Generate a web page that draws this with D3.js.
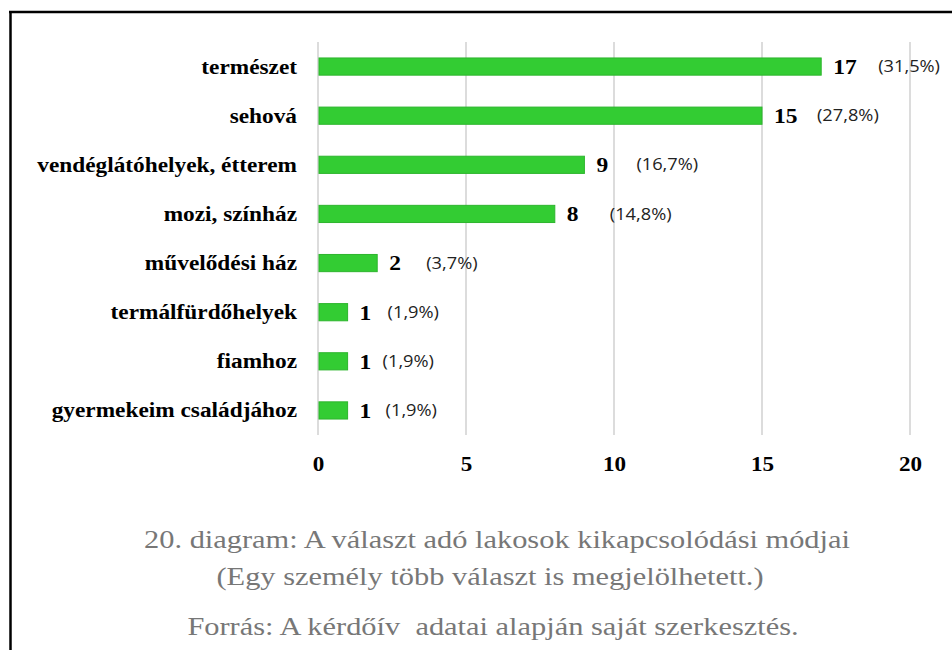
<!DOCTYPE html>
<html><head><meta charset="utf-8">
<script src="https://cdn.jsdelivr.net/npm/d3@7/dist/d3.min.js"></script>
<style>body{margin:0;background:#fff}svg{display:block}</style>
</head><body>
<script>
const categories = ["természet","sehová","vendéglátóhelyek, étterem","mozi, színház","művelődési ház","termálfürdőhelyek","fiamhoz","gyermekeim családjához"];
const values = [17,15,9,8,2,1,1,1];
const percents = ["(31,5%)","(27,8%)","(16,7%)","(14,8%)","(3,7%)","(1,9%)","(1,9%)","(1,9%)"];
const tickValues = [0,5,10,15,20];
const captionLines = ["20. diagram: A választ adó lakosok kikapcsolódási módjai","(Egy személy több választ is megjelölhetett.)","Forrás: A kérdőív  adatai alapján saját szerkesztés."];
// layout: distance from bar end to percent label (px)
const pctOffset = [57,55,52,55,49,40,35,38];

const W=952,H=650;
const svg=d3.select("body").append("svg").attr("width",W).attr("height",H);
svg.append("rect").attr("width",W).attr("height",H).attr("fill","#fff");
// frame
svg.append("line").attr("x1",9).attr("x2",W).attr("y1",12).attr("y2",12).attr("stroke","#000").attr("stroke-width",2.5);
svg.append("line").attr("x1",10.5).attr("x2",10.5).attr("y1",11).attr("y2",H).attr("stroke","#000").attr("stroke-width",2.5);

const x=d3.scaleLinear().domain([0,20]).range([318,910]);
const y=d3.scaleBand().domain(categories).range([42,435]).paddingInner(0.65).paddingOuter(0.325);

const serif="'Liberation Serif','Times New Roman',serif";
const sans="'Open Sans','Noto Sans',sans-serif";

// gridlines
svg.append("g").selectAll("line").data(tickValues).join("line")
 .attr("x1",d=>x(d)).attr("x2",d=>x(d)).attr("y1",42).attr("y2",435)
 .attr("stroke","#d0d0d0").attr("stroke-width",1.5);

// x axis
const xs=1.1;
const xa=svg.append("g").attr("transform","translate(0,446)")
 .call(d3.axisBottom(x).tickValues(tickValues).tickSize(0).tickPadding(10).tickFormat(d3.format("d")));
xa.select(".domain").remove();
xa.selectAll("text").attr("font-family",serif).attr("font-weight","bold").attr("font-size",21).attr("fill","#000")
 .attr("transform",`scale(${xs},1)`);

// y axis
const ys=1.06;
const ya=svg.append("g").attr("transform","translate(318,0)")
 .call(d3.axisLeft(y).tickSize(0).tickPadding(21));
ya.select(".domain").remove();
ya.selectAll("text").attr("font-family",serif).attr("font-weight","bold").attr("font-size",22).attr("fill","#000")
 .attr("x",-21/ys).attr("transform",`scale(${ys},1)`);

const data=categories.map((c,i)=>({c,v:values[i],p:percents[i],o:pctOffset[i]}));
// bars
svg.append("g").selectAll("rect").data(data).join("rect")
 .attr("x",x(0)+1).attr("y",d=>y(d.c)).attr("width",d=>x(d.v)-x(0)-1).attr("height",y.bandwidth())
 .attr("fill","#33cc33").attr("stroke","#2db52d").attr("stroke-width",1);

// value labels
const vs=1.12, ps=1.14;
const lab=svg.append("g").selectAll("g").data(data).join("g")
 .attr("transform",d=>`translate(${x(d.v)},${y(d.c)+y.bandwidth()/2})`);
lab.append("text")
 .attr("transform",`translate(12,0) scale(${vs},1)`).attr("dy","0.35em")
 .attr("font-family",serif).attr("font-weight","bold").attr("font-size",21).attr("fill","#000")
 .text(d=>d.v);
lab.append("text")
 .attr("transform",d=>`translate(${d.o},0) scale(${ps},1)`).attr("dy","0.35em")
 .attr("font-family",sans).attr("font-size",16).attr("fill","#222")
 .text(d=>d.p);

// caption
const cs=1.17;
const capX=[497,490,493], capY=[548,585,635];
svg.append("g").selectAll("text").data(captionLines).join("text")
 .attr("transform",(d,i)=>`translate(${capX[i]},${capY[i]}) scale(${cs},1)`)
 .attr("text-anchor","middle").attr("font-family",serif).attr("font-size",26).attr("fill","#777")
 .style("white-space","pre")
 .text(d=>d);
</script>
</body></html>
